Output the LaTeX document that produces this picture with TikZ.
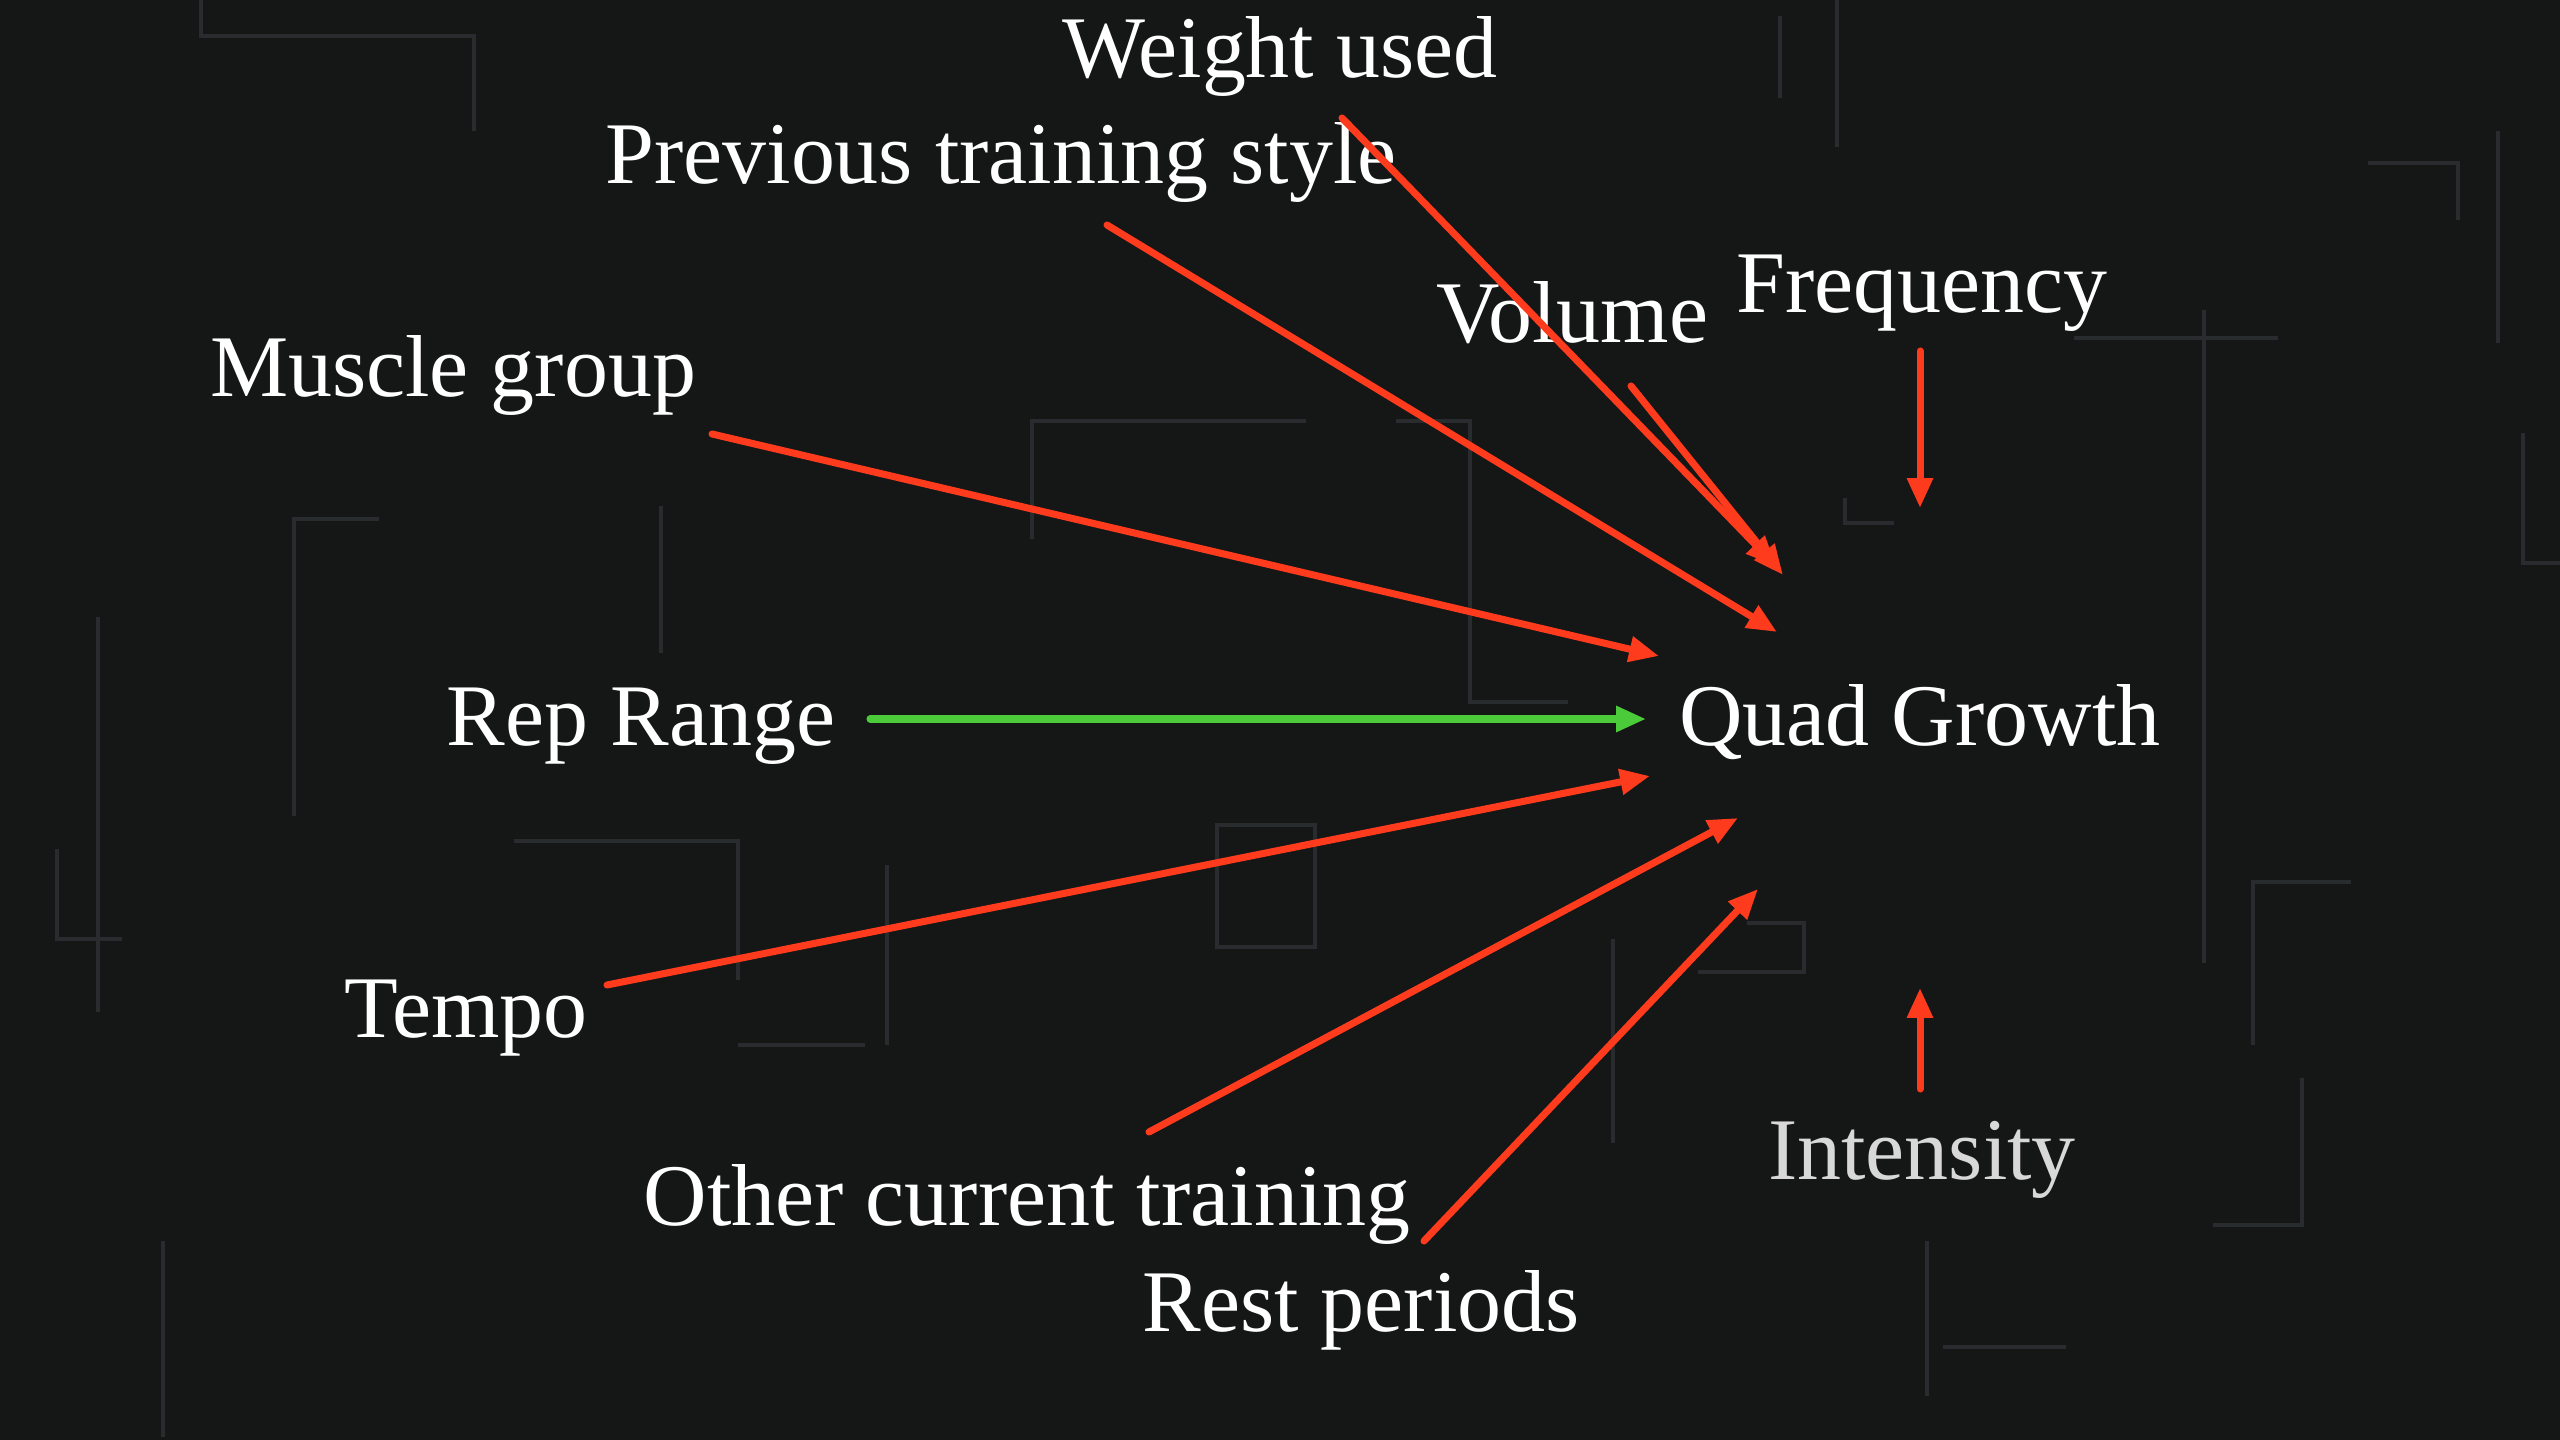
\documentclass[tikz,border=0pt]{standalone}
\usepackage{fontspec}
\setmainfont{Liberation Serif}
\usetikzlibrary{arrows.meta}

\definecolor{bgdark}{HTML}{151616}
\definecolor{bgtrace}{HTML}{282C2E}
\definecolor{causered}{HTML}{FF3B1E}
\definecolor{causegreen}{HTML}{4CCB3A}
\definecolor{dimtext}{HTML}{D8D8D8}

\begin{document}
\begin{tikzpicture}[
  x=0.01cm, y=-0.01cm,
  factor/.style={inner sep=0pt, anchor=base, text=white,
    font=\fontsize{25}{30}\selectfont},
  cause/.style={draw=causered, line width=2pt, line cap=round,
    -{Triangle[length=8.5pt,width=7pt]}},
  keycause/.style={cause, draw=causegreen},
  trace/.style={draw=bgtrace, line width=1.1pt}
]

% ── backdrop: dark board with faint traces ─────────────────────────
\useasboundingbox (0,0) rectangle (2560,1440);
\fill[bgdark] (-10,-10) rectangle (2570,1450);
\draw[trace] (201,0) -- (201,36) -- (474,36) -- (474,131);
\draw[trace] (379,519) -- (294,519) -- (294,816);
\draw[trace] (661,506) -- (661,653);
\draw[trace] (98,617) -- (98,1012);
\draw[trace] (57,849) -- (57,939) -- (122,939);
\draw[trace] (514,841) -- (738,841) -- (738,980);
\draw[trace] (738,1045) -- (865,1045);
\draw[trace] (1032,539) -- (1032,421) -- (1306,421);
\draw[trace] (1396,421) -- (1470,421) -- (1470,702) -- (1568,702);
\draw[trace] (1845,498) -- (1845,523) -- (1894,523);
\draw[trace] (2074,338) -- (2278,338);
\draw[trace] (2498,131) -- (2498,343);
\draw[trace] (2351,882) -- (2253,882) -- (2253,1045);
\draw[trace] (2302,1078) -- (2302,1225) -- (2213,1225);
\draw[trace] (1613,939) -- (1613,1143);
\draw[trace] (1747,923) -- (1804,923) -- (1804,972) -- (1698,972);
\draw[trace] (1927,1241) -- (1927,1396);
\draw[trace] (1943,1347) -- (2066,1347);
\draw[trace] (1217,825) rectangle (1315,947);
\draw[trace] (1780,16) -- (1780,98);
\draw[trace] (1837,0) -- (1837,147);
\draw[trace] (2368,163) -- (2458,163) -- (2458,220);
\draw[trace] (2204,310) -- (2204,963);
\draw[trace] (887,865) -- (887,1045);
\draw[trace] (2523,433) -- (2523,563) -- (2560,563);
\draw[trace] (163,1241) -- (163,1437);

% ── factors ─────────────────────────────────────────────────────────
\node[factor] (weight)    at (1280,78)   {Weight used};
\node[factor] (previous)  at (1001,184)  {Previous training style};
\node[factor] (volume)    at (1572,343)  {Volume};
\node[factor] (frequency) at (1922,313)  {Frequency};
\node[factor] (muscle)    at (453,397)   {Muscle group};
\node[factor] (reprange)  at (641,746)   {Rep Range};
\node[factor] (quad)      at (1920,746)  {Quad Growth};
\node[factor] (tempo)     at (466,1037)  {Tempo};
\node[factor] (other)     at (1027,1225) {Other current training};
\node[factor] (rest)      at (1361,1331) {Rest periods};
\node[factor, text=dimtext] (intensity) at (1922,1179) {Intensity};

% ── arrow ends ──────────────────────────────────────────────────────
\coordinate (weight-s)    at (1342,118);
\coordinate (weight-e)    at (1776,566);
\coordinate (previous-s)  at (1107,225);
\coordinate (previous-e)  at (1777,632);
\coordinate (volume-s)    at (1631,386);
\coordinate (volume-e)    at (1783,575);
\coordinate (frequency-s) at (1920,351);
\coordinate (frequency-e) at (1920,508);
\coordinate (muscle-s)    at (712,434);
\coordinate (muscle-e)    at (1659,656);
\coordinate (reprange-s)  at (870,719);
\coordinate (reprange-e)  at (1646,719);
\coordinate (tempo-s)     at (607,985);
\coordinate (tempo-e)     at (1650,776);
\coordinate (other-s)     at (1149,1132);
\coordinate (other-e)     at (1738,818);
\coordinate (rest-s)      at (1424,1241);
\coordinate (rest-e)      at (1758,889);
\coordinate (intensity-s) at (1920,1089);
\coordinate (intensity-e) at (1920,988);

% ── influences ──────────────────────────────────────────────────────
\draw[cause] (weight-s) -- (weight-e);
\draw[cause] (previous-s) -- (previous-e);
\draw[cause] (volume-s) -- (volume-e);
\draw[cause] (frequency-s) -- (frequency-e);
\draw[cause] (muscle-s) -- (muscle-e);
\draw[keycause] (reprange-s) -- (reprange-e);
\draw[cause] (tempo-s) -- (tempo-e);
\draw[cause] (other-s) -- (other-e);
\draw[cause] (rest-s) -- (rest-e);
\draw[cause] (intensity-s) -- (intensity-e);

\end{tikzpicture}
\end{document}
